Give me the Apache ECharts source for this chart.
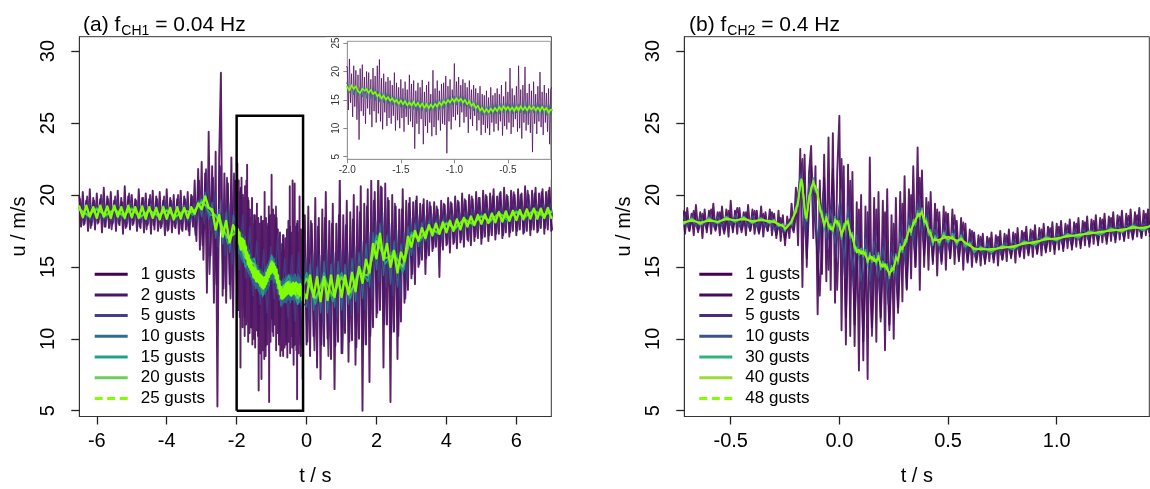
<!DOCTYPE html>
<html><head><meta charset="utf-8">
<script src="https://cdn.jsdelivr.net/npm/echarts@6/dist/echarts.min.js"></script>
<style>html,body{margin:0;padding:0;background:#fff}#c{width:1150px;height:489px}</style>
</head><body><div id="c"></div>
<script>
// ---------- panel (a) : f_CH1 = 0.04 Hz ----------
const leftNames = ['1 gusts','2 gusts','5 gusts','10 gusts','15 gusts','20 gusts','25 gusts'];
const leftColors = ['#440154','#481668','#433E85','#2D6F8E','#1FA187','#6CCE59','#7FFF00'];
const leftXTicks = [-6,-4,-2,0,2,4,6];
const yTicks = [5,10,15,20,25,30];
const insetXTicks = [-2.0,-1.5,-1.0,-0.5];
const zoomBoxT = [-2.0,-2.0,-0.1,-0.1,-2.0];
const zoomBoxU = [5,25.5,25.5,5,5];

// 1 gusts: a) t=-6.5..-2.05 step 0.05, b) t=-2.0..-0.1 step 0.01, c) t=-0.05..7.0 step 0.05
const L1a = [
19.9,17.8,20.2,18.0,19.6,17.5,20.4,17.9,19.8,17.6,
20.1,18.1,19.7,17.4,20.5,17.8,19.9,17.7,20.2,18.0,
19.6,17.5,20.3,17.9,19.8,17.3,20.6,17.8,19.9,17.6,
20.0,18.0,19.7,17.5,20.4,17.7,19.8,17.4,20.1,17.9,
19.7,17.3,20.3,17.6,19.9,17.5,20.2,17.8,19.6,17.2,
20.4,17.6,19.8,17.4,20.0,17.7,19.7,17.3,20.3,17.5,
19.9,17.6,20.2,17.2,20.0,17.8,
21.0,16.8,21.8,16.2,22.3,15.5,21.5,13.2,24.4,15.8,22.0,12.5,23.0,5.3,22.5,
28.5,13.0,21.5,12.5,20.8,13.8,22.6,11.5,21.0];
const L1b = [
20.8,13.2,22.2,14.5,19.6,12.0,21.0,13.8,20.2,11.5,
19.4,8.0,20.5,13.0,21.2,12.2,19.0,10.8,20.0,13.5,
19.8,12.4,18.6,10.2,20.6,13.0,19.2,11.0,21.0,12.6,
22.1,11.2,18.8,9.8,19.6,12.8,18.2,10.4,19.0,11.8,
18.4,10.8,17.6,12.2,19.8,9.6,18.0,11.4,17.2,10.0,
18.6,11.8,17.0,9.4,18.2,12.0,16.8,10.6,19.4,11.2,
17.8,10.2,18.4,6.4,16.6,10.8,18.0,9.0,17.2,11.6,
18.5,7.2,16.4,10.4,17.6,9.2,18.2,11.0,16.0,8.6,
20.2,10.2,17.0,8.8,18.4,11.4,16.6,9.6,17.8,10.8,
18.0,10.6,19.2,5.6,17.4,11.2,18.6,9.8,16.8,12.0,
21.4,11.4,18.2,12.4,19.0,10.2,17.6,12.8,18.6,11.0,
18.0,12.0,17.2,9.2,18.4,11.6,16.8,10.4,17.6,12.2,
17.0,9.6,16.2,11.4,17.4,8.8,16.0,10.6,15.8,9.2,
16.6,10.0,15.4,8.8,17.2,11.0,15.8,9.4,16.2,10.8,
17.0,9.6,16.0,11.2,17.6,8.7,15.6,10.4,18.2,9.8,
16.4,11.0,20.6,9.0,17.0,10.2,15.8,11.6,17.4,9.4,
21.0,10.0,16.8,8.2,17.6,11.0,20.8,9.6,16.2,10.6,
17.8,9.2,16.6,5.8,18.2,10.8,16.0,9.0,17.4,11.2,
19.9,10.2,16.4,8.8,17.6,11.0,16.2,9.4,17.0,7.2,
16.8];
const L1c = [
18.6,9.6,19.2,8.8,18.0,10.2,19.8,8.0,18.4,7.2,
19.0,9.5,20.2,10.0,18.2,8.6,19.4,6.5,18.0,9.8,
21.4,9.0,18.6,10.4,19.6,8.4,18.8,9.9,20.0,8.2,
19.2,10.0,20.6,5.0,19.4,9.6,20.4,7.0,21.0,10.8,
20.2,11.5,21.6,12.0,20.5,8.0,20.8,11.0,19.6,5.6,
20.0,10.5,19.2,8.6,19.0,11.2,20.4,12.5,
19.6,13.4,19.8,14.2,19.5,13.8,19.9,15.0,19.4,15.5,19.7,14.5,19.6,15.8,
19.2,16.1,19.5,16.4,19.0,14.3,19.6,16.2,19.3,16.5,
19.8,16.0,19.4,16.6,19.9,16.3,19.5,16.7,20.1,16.4,
19.6,16.9,20.0,16.5,19.7,16.8,20.2,17.0,19.8,16.6,
20.3,17.1,19.9,16.8,20.1,17.2,20.4,16.9,19.9,17.3,
20.2,17.0,20.5,17.4,19.9,17.1,20.3,17.5,20.0,17.2,
20.4,17.6,20.1,17.3,20.6,17.5,20.0,17.2,20.3,17.6,
20.5,17.4,20.1,17.7,20.4,17.3,20.2,17.6,20.5,17.5];
// 2 gusts, t = -6.475 .. step 0.1
const L2 = [19.7,17.9,19.9,17.7,19.6,18.0,20.0,17.8,19.7,17.6,19.9,18.0,19.5,17.7,20.1,17.9,19.6,17.8,19.8,17.6,20.0,17.9,19.7,17.7,19.9,17.5,19.6,17.8,20.0,17.6,19.7,17.5,19.9,
17.2,21.0,16.5,21.8,14.5,21.2,13.8,22.0,
13.5,21.2,12.8,21.5,12.0,20.5,11.5,19.8,10.8,18.6,10.2,18.2,9.5,18.5,10.5,19.2,10.0,17.2,9.8,17.8,9.5,18.0,9.6,17.6,
9.8,18.2,9.2,17.8,9.6,18.4,8.8,18.0,9.5,18.6,9.0,17.9,9.8,18.3,9.4,18.8,9.6,19.2,10.2,19.6,11.8,20.6,11.0,19.8,10.4,19.4,10.2,19.0,12.8,
19.4,14.5,19.6,15.2,19.3,15.6,19.5,
16.3,19.2,16.4,19.4,16.6,19.5,16.7,19.6,16.9,19.7,16.8,19.9,17.1,19.8,17.0,20.0,17.2,19.9,17.3,20.1,17.2,20.0,17.4,20.2,17.5,20.0,17.4,20.3,17.6,20.1,17.5,20.2,17.7,20.3,17.6];
// 5 gusts, t = -6.425 .. step 0.1
const L5 = [19.4,18.2,19.5,18.1,19.3,18.3,19.5,18.2,19.4,18.1,19.6,18.2,19.3,18.0,19.5,18.2,19.4,18.1,19.5,18.0,19.4,18.2,19.3,18.0,19.5,18.1,19.3,18.0,19.4,18.1,19.5,18.0,19.4,
18.2,20.0,18.0,20.8,17.5,20.2,16.4,19.6,
15.8,19.4,15.2,19.3,14.8,18.6,14.2,17.8,13.0,16.8,12.4,16.2,11.8,16.4,12.8,17.2,12.2,15.6,11.4,15.8,11.2,16.0,11.4,15.6,
11.4,16.0,11.2,15.8,11.0,16.2,11.0,16.0,11.4,16.2,11.2,16.0,11.6,16.4,11.8,16.8,12.0,17.4,12.8,18.2,14.0,18.8,13.6,18.0,13.0,17.6,12.8,17.4,14.0,
18.4,15.4,18.6,16.0,18.6,16.4,18.7,
16.8,18.6,16.9,18.7,17.1,18.7,17.2,18.8,17.3,18.9,17.5,19.0,17.6,19.0,17.7,19.1,17.8,19.1,17.8,19.2,17.9,19.2,18.0,19.3,18.0,19.3,18.1,19.4,18.1,19.4,18.1,19.4,18.2,19.4,18.1];
// 10 gusts: a) -6.5..-2.1 step 0.1, b) -2.0..-0.1 step 0.02, c) 0.0..7.0 step 0.1
const L10a = [19.2,18.4,19.3,18.3,19.2,18.4,19.3,18.3,19.2,18.4,19.3,18.3,19.2,18.3,19.3,18.4,19.2,18.3,19.3,18.3,19.2,18.4,19.2,18.3,19.3,18.3,19.2,18.2,19.2,18.3,19.3,18.2,19.2,
18.5,19.6,18.5,20.2,18.3,19.5,17.0,19.0,
16.6,18.8,16.0,18.6];
const L10b = [17.9,16.3,17.6,15.9,17.4,15.7,17.2,15.5,17.3,15.3,
17.0,15.3,17.1,14.9,16.6,14.7,16.4,14.5,16.2,14.3,
15.9,14.1,15.6,13.9,15.5,13.7,15.3,13.5,15.2,13.5,
15.1,13.3,14.9,13.1,14.8,13.1,14.7,12.9,14.6,13.1,
14.8,13.1,15.0,13.3,15.2,13.5,15.4,13.7,15.6,14.1,
15.7,14.1,15.7,13.9,15.6,13.9,15.3,13.5,14.9,13.1,
14.5,12.7,14.1,12.3,14.0,12.3,14.1,12.5,14.2,12.5,
14.3,12.5,14.4,12.7,14.5,12.7,14.3,12.5,14.5,12.7,
14.3,12.7,14.5,12.5,14.5,12.7,14.3,12.7,14.5,12.5,
14.3,12.5,14.1,12.3,14.3,12.5];
const L10c = [12.2,15.2,12.0,15.0,11.8,15.4,11.8,15.2,12.2,15.4,12.0,15.2,12.4,15.6,12.6,16.0,12.8,16.6,13.6,17.4,14.8,18.0,14.4,17.2,13.8,16.8,13.6,16.6,14.8,
17.8,15.8,18.0,16.4,18.1,16.8,18.2,
17.1,18.2,17.3,18.3,17.4,18.3,17.5,18.4,17.6,18.5,17.8,18.6,17.9,18.7,18.0,18.7,18.1,18.8,18.1,18.9,18.2,18.9,18.3,18.9,18.3,19.0,18.4,19.0,18.4,19.1,18.4,19.1,18.5,19.1,18.4];
// 15 / 20 gusts, t = -6.5 .. 7.0 step 0.25
const L15 = [19.1,18.5,19.1,18.5,19.0,18.5,19.1,18.4,19.0,18.5,19.0,18.4,19.0,18.6,19.7,18.6,18.6,16.6,17.8,15.0,15.6,13.0,15.8,13.2,14.4,12.4,14.6,12.4,14.6,12.6,14.6,12.8,15.0,14.0,17.2,15.2,16.2,14.6,17.4,16.8,17.8,17.3,18.1,17.6,18.4,17.9,18.6,18.1,18.8,18.2,18.9,18.4,19.0,18.5,18.9];
const L20 = [19.0,18.6,19.0,18.6,19.0,18.6,19.0,18.5,18.9,18.6,18.9,18.5,18.9,18.8,19.5,19.0,18.2,17.0,17.4,15.6,15.2,13.5,15.4,13.5,14.0,12.8,14.2,12.8,14.2,13.0,14.3,13.2,14.6,14.4,16.8,15.6,15.8,15.0,17.2,17.0,17.7,17.4,18.0,17.7,18.3,18.0,18.5,18.2,18.7,18.4,18.8,18.5,18.9,18.6,18.8];
// 25 gusts: a) -6.5..-2.1 step 0.1, b) -2.0..-0.1 step 0.02, c) 0.0..7.0 step 0.1
const L25a = [19.2,18.45,19.25,18.5,19.15,18.4,19.25,18.5,19.2,18.4,19.25,18.5,19.15,18.4,19.25,18.45,19.15,18.4,19.2,18.35,19.15,18.4,19.1,18.3,19.15,18.35,19.1,18.3,19.15,18.35,19.1,18.4,19.15,
18.7,19.4,19.0,19.9,19.1,19.0,17.6,18.6,
17.1,18.2,16.7,17.9];
const L25b = [17.3,16.6,17.6,16.9,17.4,16.5,16.2,17.0,16.6,16.9,
16.2,16.8,16.0,16.4,15.6,16.0,15.2,15.8,15.0,15.5,
14.8,15.3,14.6,15.0,14.3,14.9,14.2,14.8,14.0,14.6,
14.0,14.7,13.9,14.5,13.7,14.4,13.6,14.3,13.5,14.2,
13.6,14.3,13.8,14.6,14.0,14.8,14.3,15.0,14.5,15.2,
14.6,15.3,14.7,15.2,14.5,15.0,14.2,14.8,13.9,14.4,
13.5,14.0,13.1,13.6,12.8,13.4,12.8,13.5,12.9,13.6,
13.0,13.8,13.1,13.9,13.2,13.8,13.1,13.7,13.0,13.8,
13.1,13.9,13.2,13.8,13.1,13.9,13.3,13.8,13.1,13.7,
13.0,13.8,13.1,13.6,12.7,13.3];
const L25c = [12.8,14.4,12.9,14.3,12.6,14.3,12.7,14.4,12.9,14.4,12.9,14.4,13.1,14.6,13.3,
15.0,13.9,15.5,14.6,16.6,15.6,17.3,15.5,16.6,15.0,16.1,14.6,16.0,15.4,
17.1,16.4,17.5,16.8,17.7,17.0,17.9,
17.2,18.0,17.3,18.1,17.4,18.2,17.5,18.3,17.6,18.4,17.8,18.5,17.9,18.6,18.0,18.65,18.05,18.7,18.1,18.8,18.15,18.85,18.2,18.9,18.25,18.95,18.3,19.0,18.35,19.05,18.35,19.05,18.4,19.1,18.4];

// ---------- panel (b) : f_CH2 = 0.4 Hz ----------
const rightNames = ['1 gusts\u200b','2 gusts\u200b','5 gusts\u200b','10 gusts\u200b','30 gusts','40 gusts','48 gusts'];
const rightColors = ['#440154','#470B5E','#472D7B','#3B528B','#2EB37C','#A0DA39','#7FFF00'];
const rightXTicks = [-0.5,0.0,0.5,1.0];
// 1 gusts, t = -0.72 .. 1.43 step 0.01
const R1 = [
18.9,17.3,19.1,17.5,18.7,17.2,19.3,17.6,18.8,17.0,19.0,17.4,18.9,17.3,19.4,17.6,18.8,17.2,19.2,17.5,19.0,17.1,19.6,17.4,18.9,17.3,19.1,17.6,18.8,17.2,19.3,17.5,19.0,17.3,18.9,17.4,19.2,17.1,18.8,17.5,19.0,17.2,18.7,17.0,18.9,16.8,18.6,16.5,18.5,17.0,19.4,17.6,
20.5,16.5,23.2,13.6,22.8,15.0,21.5,23.4,17.0,22.0,11.7,21.0,14.5,22.8,14.0,24.0,13.4,24.3,12.5,21.5,25.5,10.6,22.0,9.6,22.1,10.2,21.6,9.5,19.5,7.8,20.0,8.5,19.2,7.2,22.6,10.8,19.8,9.8,20.2,11.5,19.6,9.2,20.4,11.0,18.6,10.0,19.8,12.2,20.2,12.6,21.3,13.5,20.4,14.2,22.0,15.0,23.3,
13.4,21.7,15.0,19.8,14.8,20.2,15.2,19.4,14.4,18.8,15.4,19.2,14.8,18.7,15.6,19.0,15.2,18.2,15.4,18.4,14.8,18.0,15.3,17.6,15.0,17.4,15.5,17.2,15.1,
17.3,15.2,17.1,15.4,17.4,15.3,17.2,15.1,17.5,15.5,
17.3,15.4,17.6,15.6,17.4,15.3,17.7,15.7,17.5,15.6,
17.8,15.8,17.6,15.7,17.9,15.9,17.7,15.8,18.0,16.0,
17.8,16.1,18.1,15.9,18.0,16.2,18.2,16.1,18.0,16.3,
18.3,16.2,18.1,16.4,18.4,16.3,18.2,16.5,18.5,16.4,
18.3,16.6,18.6,16.5,18.4,16.7,18.7,16.6,18.5,16.8,
18.8,16.7,18.6,16.9,18.9,16.8,18.7,17.0,19.0,16.9,
18.8,17.1,19.1,17.0,18.9,17.2,19.0,17.1];
// 2 gusts (t0 -0.71), 5 gusts (t0 -0.715), 10 gusts (t0 -0.72), step 0.02
const R2 = [18.8,17.5,18.9,17.4,18.7,17.6,19.0,17.5,18.8,17.3,18.9,17.6,19.1,17.4,18.8,17.5,18.9,17.3,18.7,17.5,18.8,17.2,18.4,16.9,18.3,17.4,
19.8,22.5,15.6,22.0,18.0,13.0,21.2,14.8,21.8,13.4,22.5,11.5,21.0,11.0,19.0,9.8,18.8,10.2,19.0,11.2,18.8,10.6,18.0,11.8,19.4,13.4,20.0,15.0,21.2,
15.8,19.5,15.4,19.0,15.2,18.8,15.6,18.6,15.5,18.1,15.4,17.5,15.3,17.1,
15.4,17.0,15.5,17.1,15.5,17.2,15.7,17.3,15.8,17.4,15.9,17.5,16.0,17.6,16.1,17.7,16.2,17.8,16.3,17.9,16.4,18.0,16.5,18.1,16.6,18.2,16.7,18.3,16.8,18.4,16.9,18.5,16.95,18.55,17.0,18.6,17.1,18.7,17.2];
const R5 = [18.6,17.7,18.6,17.7,18.5,17.8,18.7,17.7,18.6,17.7,18.6,17.8,18.7,17.7,18.6,17.7,18.6,17.6,18.5,17.7,18.5,17.5,18.1,17.3,18.1,17.7,
19.4,21.8,16.8,21.2,19.0,16.0,20.2,16.2,20.0,15.6,20.4,14.2,20.0,13.6,18.0,12.8,17.6,13.0,17.6,13.2,17.2,12.4,16.8,13.4,18.2,15.0,19.0,16.2,20.0,
16.8,19.0,16.2,18.2,15.9,18.0,16.2,17.9,16.1,17.6,15.9,17.1,15.7,16.8,
15.7,16.8,15.8,16.8,15.8,16.9,16.0,17.0,16.1,17.1,16.2,17.2,16.3,17.3,16.4,17.4,16.5,17.5,16.6,17.6,16.7,17.7,16.8,17.8,16.9,17.9,17.0,18.0,17.0,18.1,17.1,18.1,17.2,18.2,17.3,18.2,17.4,18.3,17.4];
const R10 = [18.5,17.8,18.5,17.8,18.4,17.9,18.5,17.8,18.5,17.8,18.5,17.9,18.6,17.8,18.5,17.8,18.5,17.8,18.4,17.8,18.3,17.6,18.0,17.5,18.0,17.9,
19.2,21.4,17.6,20.8,19.8,17.0,19.4,17.0,19.0,16.6,19.4,15.4,19.2,14.8,17.2,14.0,17.0,14.0,16.8,14.2,16.4,13.4,16.0,14.2,17.4,15.6,18.4,16.8,19.4,
17.4,18.6,16.6,17.6,16.3,17.6,16.5,17.5,16.4,17.3,16.2,16.8,15.9,16.6,
15.9,16.6,16.0,16.6,16.0,16.7,16.2,16.8,16.3,16.9,16.4,17.0,16.5,17.1,16.6,17.2,16.7,17.3,16.8,17.4,16.9,17.5,17.0,17.6,17.1,17.6,17.2,17.7,17.3,17.8,17.3,17.9,17.4,17.9,17.5,18.0,17.5,18.0,17.6];
// 30 / 40 / 48 gusts on an uneven time grid
const rTimeS = [-0.72,-0.68,-0.64,-0.60,-0.56,-0.52,-0.48,-0.44,-0.40,-0.36,-0.32,
-0.30,-0.28,-0.26,-0.25,-0.24,-0.22,-0.20,-0.19,-0.18,-0.175,-0.17,-0.16,-0.155,-0.15,
-0.14,-0.13,-0.12,-0.11,-0.10,-0.09,-0.08,-0.07,-0.06,-0.05,-0.04,-0.03,-0.02,-0.01,0.00,0.01,0.02,0.03,0.04,0.05,
0.06,0.07,0.08,0.09,0.10,0.11,0.12,0.13,0.14,0.15,0.16,0.17,0.18,0.19,0.20,0.21,0.22,0.23,0.24,0.25,
0.26,0.27,0.28,0.29,0.30,0.31,0.32,0.33,0.34,0.35,0.36,0.37,0.38,0.39,0.40,0.41,0.42,0.43,0.44,
0.46,0.48,0.50,0.52,0.54,0.56,0.58,0.60,0.62,
0.65,0.70,0.75,0.80,0.85,0.90,0.95,1.00,1.05,1.10,1.15,1.20,1.25,1.30,1.35,1.40,1.43];
const R30 = [17.9,18.4,17.9,18.4,18.0,18.5,18.1,18.5,18.0,18.4,18.0,
18.3,17.8,18.0,17.5,17.9,18.0,19.2,19.2,21.0,20.7,21.0,18.8,18.8,18.2,
20.0,20.1,21.2,20.2,20.4,18.8,18.9,17.6,18.7,17.6,18.0,17.3,18.5,17.8,18.2,16.9,18.0,17.8,18.4,17.0,
17.4,16.1,16.4,15.8,16.3,15.7,16.2,15.1,16.0,15.3,15.8,15.1,16.0,14.8,15.4,14.8,15.2,14.2,15.1,14.6,
15.9,15.2,16.6,16.0,16.9,16.7,17.9,17.2,18.3,17.9,18.9,18.3,19.1,17.9,18.4,17.2,17.6,16.5,17.2,
16.5,17.4,16.7,17.3,16.5,17.2,16.4,16.7,16.0,
16.4,16.0,16.5,16.2,16.8,16.5,17.1,16.8,17.3,17.0,17.5,17.2,17.7,17.4,17.9,17.5,17.9];
const R40 = [18.0,18.3,18.0,18.3,18.1,18.4,18.2,18.4,18.1,18.3,18.1,
18.2,17.9,17.9,17.6,17.8,18.1,19.0,19.4,20.8,20.9,20.8,19.0,18.6,18.4,
19.8,20.3,21.0,20.4,20.2,19.0,18.7,17.8,18.5,17.8,17.8,17.5,18.3,18.0,18.0,17.1,17.8,18.0,18.2,17.2,
17.2,16.3,16.2,16.0,16.1,15.9,16.0,15.3,15.8,15.5,15.6,15.3,15.8,15.0,15.2,15.0,15.0,14.4,14.9,14.8,
15.7,15.4,16.4,16.2,16.7,16.9,17.7,17.4,18.1,18.1,18.7,18.5,18.9,18.1,18.2,17.4,17.4,16.7,17.0,
16.7,17.2,16.9,17.1,16.7,17.0,16.6,16.55,16.2,
16.3,16.15,16.4,16.35,16.7,16.65,17.0,16.9,17.2,17.15,17.4,17.35,17.6,17.5,17.8,17.65,17.85];
const R48 = [18.1,18.2,18.1,18.2,18.15,18.3,18.25,18.3,18.2,18.25,18.2,
18.1,18.0,17.8,17.7,17.75,18.2,18.8,19.6,20.6,21.1,20.6,19.2,18.4,18.6,
19.6,20.5,20.8,20.6,20.0,19.2,18.5,18.0,18.3,18.0,17.6,17.7,18.1,18.2,17.8,17.3,17.6,18.2,18.0,17.4,
17.0,16.5,16.0,16.2,15.9,16.1,15.8,15.5,15.6,15.7,15.4,15.5,15.6,15.2,15.0,15.2,14.8,14.6,14.7,15.0,
15.5,15.6,16.2,16.4,16.5,17.1,17.5,17.6,17.9,18.3,18.5,18.7,18.7,18.3,18.0,17.6,17.2,16.9,16.85,
16.9,17.0,17.1,16.95,16.85,16.9,16.7,16.45,16.3,
16.2,16.25,16.3,16.45,16.6,16.75,16.9,17.0,17.1,17.25,17.3,17.45,17.5,17.6,17.7,17.75,17.8];

// ---------- helpers ----------
function times(t0, step, n){ const a=[]; for(let i=0;i<n;i++) a.push(Math.round((t0+i*step)*10000)/10000); return a; }
function pairs(ts, vs){ return vs.map((v,i)=>[ts[i], v]); }
function seq(t0, step, vs){ return pairs(times(t0, step, vs.length), vs); }
const FONT = '"Liberation Sans", Arial, Helvetica, sans-serif';

const leftData = [
  seq(-6.5,0.05,L1a).concat(seq(-2.0,0.01,L1b), seq(-0.05,0.05,L1c)),
  seq(-6.475,0.1,L2),
  seq(-6.425,0.1,L5),
  seq(-6.5,0.1,L10a).concat(seq(-2.0,0.02,L10b), seq(0.0,0.1,L10c)),
  seq(-6.5,0.25,L15),
  seq(-6.5,0.25,L20),
  seq(-6.5,0.1,L25a).concat(seq(-2.0,0.02,L25b), seq(0.0,0.1,L25c))
];
const leftStyle = [[1.9,0.88],[1.8,0.88],[1.4,0.9],[1.2,0.95],[1.6,1],[2.0,1],[2.4,1]];
const rightData = [
  seq(-0.72,0.01,R1), seq(-0.71,0.02,R2), seq(-0.715,0.02,R5), seq(-0.72,0.02,R10),
  pairs(rTimeS,R30), pairs(rTimeS,R40), pairs(rTimeS,R48)
];
const rightStyle = [[1.9,0.88],[1.8,0.88],[1.4,0.9],[1.2,0.95],[1.5,1],[1.6,1],[1.8,1]];

const series = [];
function line(name, data, color, width, opacity, xi, z){
  return {type:'line', name, data, xAxisIndex:xi, yAxisIndex:xi, symbol:'none', showSymbol:false,
    silent:true, animation:false, clip:true, z,
    itemStyle:{color}, lineStyle:{color, width, opacity, join:'round', cap:'round'}};
}
leftData.forEach((d,i)=>series.push(line(leftNames[i], d, leftColors[i], leftStyle[i][0], leftStyle[i][1], 0, 2)));
rightData.forEach((d,i)=>series.push(line(rightNames[i], d, rightColors[i], rightStyle[i][0], rightStyle[i][1], 1, 2)));
// inset: the finely resolved series of panel (a)
[[0,1.0,0.7],[3,1.0,0.95],[6,1.6,1]].forEach(([i,w,o])=>series.push(line('inset '+leftNames[i], leftData[i], leftColors[i], w, o, 2, 25)));
series.push({type:'line', name:'zoom box', data: pairs(zoomBoxT, zoomBoxU), xAxisIndex:0, yAxisIndex:0,
  symbol:'none', silent:true, animation:false, z:5, lineStyle:{color:'#000', width:2.5, join:'miter'}});

const DASH = 'path://M0,0h7v1h-7z M11,0h7v1h-7z M22,0h7v1h-7z';
function legendData(names){
  return names.map((n,i)=>({name:n, icon: i===names.length-1 ? DASH : 'rect'}));
}
const legendCommon = {orient:'vertical', top:265.7, itemWidth:33, itemHeight:3, itemGap:3.7, padding:0,
  selectedMode:false, symbolKeepAspect:false, formatter:'{t|{name}}',
  textStyle:{fontFamily:FONT, rich:{t:{fontSize:17, color:'#000', fontFamily:FONT, padding:[0,0,0,8]}}}};

function mainX(grid, min, max, ticks, fmt, name){
  return {type:'value', gridIndex:grid, min, max, splitLine:{show:false},
    axisLine:{show:true, onZero:false, lineStyle:{color:'#333', width:1}},
    axisTick:{show:true, length:8, customValues:ticks, lineStyle:{color:'#222', width:1.3}},
    axisLabel:{customValues:ticks, margin:15, fontSize:20, color:'#000', fontFamily:FONT, formatter:fmt},
    name, nameLocation:'middle', nameGap:50, nameTextStyle:{fontSize:20, color:'#000', fontFamily:FONT}};
}
function mainY(grid){
  return {type:'value', gridIndex:grid, min:4.6, max:31, splitLine:{show:false},
    axisLine:{show:true, onZero:false, lineStyle:{color:'#333', width:1}},
    axisTick:{show:true, length:8, customValues:yTicks, lineStyle:{color:'#222', width:1.3}},
    axisLabel:{customValues:yTicks, rotate:90, margin:21, fontSize:20, color:'#000', fontFamily:FONT, formatter:v=>String(v)},
    name:'u / m/s', nameLocation:'middle', nameGap:50, nameRotate:90, nameTextStyle:{fontSize:20, color:'#000', fontFamily:FONT}};
}

const option = {
  backgroundColor:'#fff', animation:false,
  textStyle:{fontFamily:FONT},
  title:[
    {text:'(a) f{s|CH1} = 0.04 Hz', left:83, top:13, padding:0,
     textStyle:{fontSize:21, fontWeight:'normal', color:'#000', fontFamily:FONT, rich:{s:{fontSize:14, color:'#000', fontFamily:FONT, padding:[11,0,0,1]}}}},
    {text:'(b) f{s|CH2} = 0.4 Hz', left:689, top:13, padding:0,
     textStyle:{fontSize:21, fontWeight:'normal', color:'#000', fontFamily:FONT, rich:{s:{fontSize:14, color:'#000', fontFamily:FONT, padding:[11,0,0,1]}}}}
  ],
  grid:[
    {left:79.3, top:36.7, width:472, height:379.8, show:true, borderColor:'#333', borderWidth:1, backgroundColor:'transparent', outerBoundsMode:'none', containLabel:false},
    {left:684.3, top:36.7, width:465, height:379.8, show:true, borderColor:'#333', borderWidth:1, backgroundColor:'transparent', outerBoundsMode:'none', containLabel:false},
    {left:347.3, top:41.3, width:203.4, height:118, show:true, borderColor:'#999', borderWidth:1, backgroundColor:'#fff', z:20, outerBoundsMode:'none', containLabel:false}
  ],
  xAxis:[
    mainX(0, -6.5, 7.0, leftXTicks, v=>String(v), 't / s'),
    mainX(1, -0.7135, 1.426, rightXTicks, v=>v.toFixed(1), 't / s'),
    {type:'value', gridIndex:2, min:-2.0, max:-0.1, z:25, splitLine:{show:false},
     axisLine:{show:true, onZero:false, lineStyle:{color:'#999'}},
     axisTick:{show:true, length:4, customValues:insetXTicks, lineStyle:{color:'#888'}},
     axisLabel:{customValues:insetXTicks, margin:6, fontSize:10, color:'#333', fontFamily:FONT, formatter:v=>v.toFixed(1)}}
  ],
  yAxis:[
    mainY(0), mainY(1),
    {type:'value', gridIndex:2, min:4.54, max:25.3, z:25, splitLine:{show:false},
     axisLine:{show:true, onZero:false, lineStyle:{color:'#999'}},
     axisTick:{show:true, length:4, customValues:yTicks, lineStyle:{color:'#888'}},
     axisLabel:{customValues:yTicks, rotate:90, margin:6, fontSize:10, color:'#333', fontFamily:FONT, formatter:v=>String(v)}}
  ],
  legend:[
    Object.assign({}, legendCommon, {left:94.7, data:legendData(leftNames)}),
    Object.assign({}, legendCommon, {left:699.3, data:legendData(rightNames)})
  ],
  graphic:[
    {type:'rect', z:10, silent:true, shape:{x:325, y:37.6, width:225.6, height:142.4}, style:{fill:'#fff'}}
  ],
  series
};
const chart = echarts.init(document.getElementById('c'), null, {renderer:'canvas'});
chart.setOption(option);
</script>
</body></html>
